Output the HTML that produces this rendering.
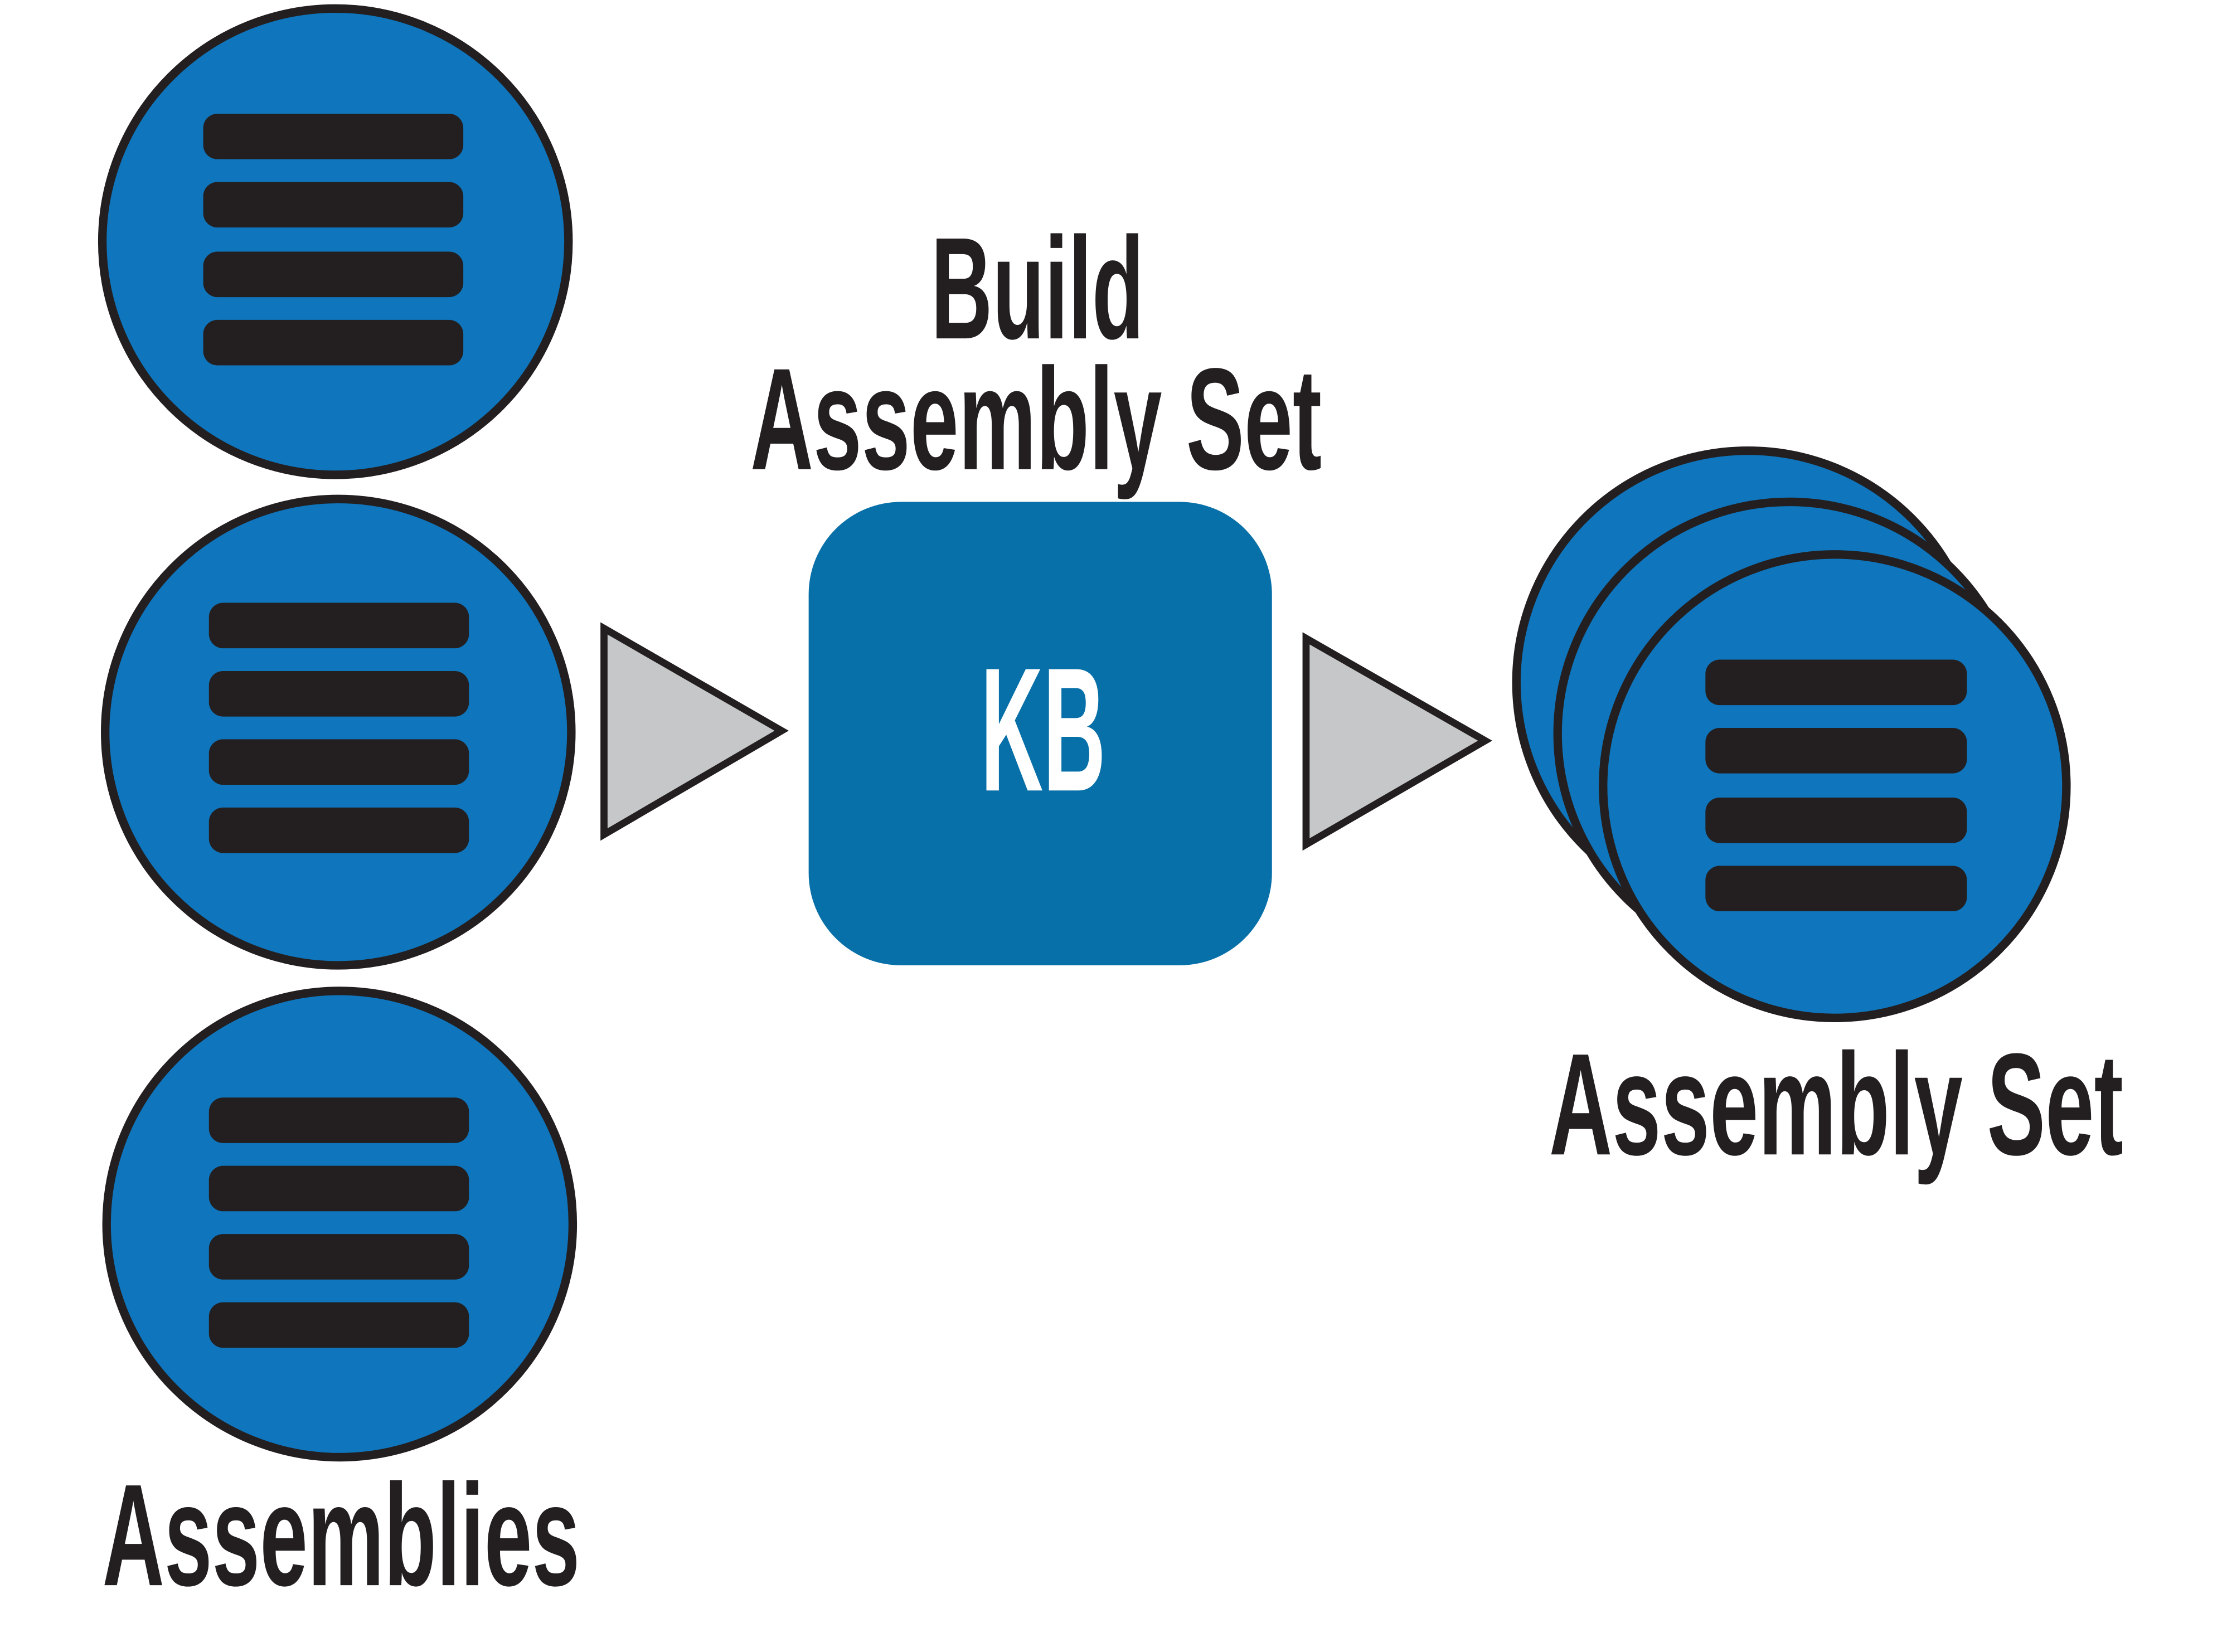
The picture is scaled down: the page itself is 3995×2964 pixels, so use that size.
<!DOCTYPE html>
<html><head><meta charset="utf-8"><style>html,body{margin:0;padding:0;background:#fff}svg{display:block}</style></head>
<body>
<svg width="3995" height="2964" viewBox="0 0 1567 1162" preserveAspectRatio="none" xmlns="http://www.w3.org/2000/svg">
<g stroke="#231f20" stroke-width="6" fill="#0f75bc">
<circle cx="236" cy="170" r="164"/>
<circle cx="238" cy="515" r="164"/>
<circle cx="239" cy="861" r="164"/>
<circle cx="1230" cy="480" r="163"/>
<circle cx="1259" cy="516" r="163"/>
<circle cx="1291" cy="553" r="163"/>
</g>
<g fill="#231f20">
<rect x="143" y="80" width="183" height="32" rx="10"/>
<rect x="143" y="128" width="183" height="32" rx="10"/>
<rect x="143" y="177" width="183" height="32" rx="10"/>
<rect x="143" y="225" width="183" height="32" rx="10"/>
<rect x="147" y="424" width="183" height="32" rx="10"/>
<rect x="147" y="472" width="183" height="32" rx="10"/>
<rect x="147" y="520" width="183" height="32" rx="10"/>
<rect x="147" y="568" width="183" height="32" rx="10"/>
<rect x="147" y="772" width="183" height="32" rx="10"/>
<rect x="147" y="820" width="183" height="32" rx="10"/>
<rect x="147" y="868" width="183" height="32" rx="10"/>
<rect x="147" y="916" width="183" height="32" rx="10"/>
<rect x="1200" y="464" width="184" height="32" rx="10"/>
<rect x="1200" y="512" width="184" height="32" rx="10"/>
<rect x="1200" y="561" width="184" height="32" rx="10"/>
<rect x="1200" y="609" width="184" height="32" rx="10"/>
</g>
<g fill="#c6c7c8" stroke="#231f20" stroke-width="5">
<polygon points="425,442 550,514 425,587"/>
<polygon points="919,449 1045,521 919,594"/>
</g>
<rect x="569" y="353" width="326" height="326" rx="65" fill="#0870a8"/>
<g font-family="Liberation Sans, sans-serif" font-weight="bold">
<text x="690" y="556" font-size="124" fill="#fff" textLength="88" lengthAdjust="spacingAndGlyphs">KB</text>
<g fill="#231f20" font-size="102">
<text x="655" y="238" textLength="150" lengthAdjust="spacingAndGlyphs">Build</text>
<text x="528" y="330" textLength="402" lengthAdjust="spacingAndGlyphs">Assembly Set</text>
<text x="1090" y="812" textLength="404" lengthAdjust="spacingAndGlyphs">Assembly Set</text>
<text x="72" y="1115" textLength="336" lengthAdjust="spacingAndGlyphs">Assemblies</text>
</g>
</g>
</svg>
</body></html>
